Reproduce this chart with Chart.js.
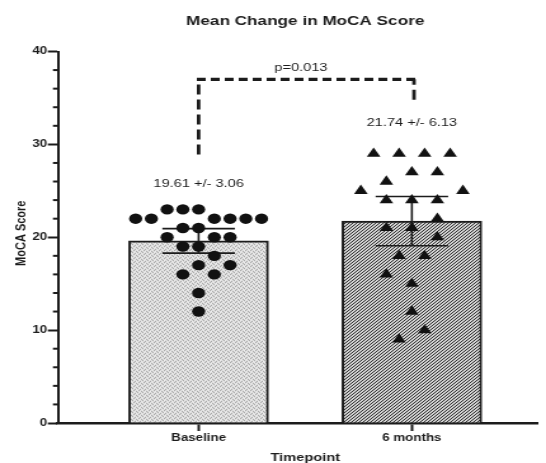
<!DOCTYPE html>
<html><head><meta charset="utf-8">
<script src="https://cdn.jsdelivr.net/npm/chart.js@4.4.1/dist/chart.umd.min.js"></script>
<style>
html,body{margin:0;padding:0;background:#fff;overflow:hidden;width:546px;height:463px;}
#wrap{position:absolute;left:0;top:0;width:430px;height:463px;transform:scaleX(1.2698);transform-origin:0 0;}
canvas{display:block;}
</style></head><body>
<div id="wrap"><canvas id="c" width="430" height="463"></canvas></div>
<script>
// ---- data ----
const categories = ['Baseline', '6 months'];
const groupMeans = [19.61, 21.74];
const groupSDs = [3.06, 6.13];
const groupCI = [1.32, 2.65];
const baselineScores = [23,23,23,22,22,22,22,22,22,21,21,20,20,20,19,19,18,17,17,16,16,14,12];
const baselineSlots  = [-2,-1,0,-4,-3,1,2,3,4,-1,0,-2,1,2,-1,0,1,0,2,-1,1,0,0];
const sixMonthScores = [29,29,29,29,27,27,26,25,25,24,24,24,22,21,21,20,18,18,16,15,12,10,9];
const sixMonthSlots  = [-3,-1,1,3,0,2,-2,-4,4,-2,0,2,2,-2,0,2,-1,1,-2,0,0,1,-1];
const pValueLabel = 'p=0.013';
const bracketTop = 37, bracketLeftEnd = 28.9, bracketRightEnd = 34.8;
const chartTitle = 'Mean Change in MoCA Score';
const yTitle = 'MoCA Score';
const xTitle = 'Timepoint';

// ---- layout constants ----
const FONT = '"Liberation Sans", Arial, Helvetica, sans-serif';
const circleStep = 0.0738, triStep = 0.0598, capHalf = 0.17;
const INK = '#1c1c1c';

const baselinePoints = baselineScores.map((v,i)=>({x: 1 + baselineSlots[i]*circleStep, y: v}));
const sixPoints = sixMonthScores.map((v,i)=>({x: 2 + sixMonthSlots[i]*triStep, y: v}));
const barPoints = groupMeans.map((m,i)=>({x: i+1, y: m}));

function stipple(){
  const c=document.createElement('canvas');c.width=4;c.height=4;
  const g=c.getContext('2d');g.fillStyle='#dcdcdc';g.fillRect(0,0,4,4);
  g.fillStyle='#a9a9a9';
  [[0,0],[2,1],[1,2],[3,3]].forEach(p=>g.fillRect(p[0],p[1],1,1));
  g.fillStyle='#efefef';
  [[2,3],[0,2],[3,1],[1,0]].forEach(p=>g.fillRect(p[0],p[1],1,1));
  return g.createPattern(c,'repeat');
}
function hatch(){
  const c=document.createElement('canvas');c.width=3;c.height=3;
  const g=c.getContext('2d');g.fillStyle='#d2d2d2';g.fillRect(0,0,3,3);
  g.fillStyle='#2e2e2e';g.fillRect(0,2,1,1);g.fillRect(1,1,1,1);g.fillRect(2,0,1,1);
  return g.createPattern(c,'repeat');
}
const ctx0 = document.getElementById('c').getContext('2d');

const overlay = {
  id:'overlay',
  afterDatasetDraw(chart,args){
    if(args.index!==2) return;
    const {ctx,scales:{x,y}}=chart;
    ctx.save();ctx.strokeStyle=INK;ctx.lineWidth=1.6;
    groupMeans.forEach((m,i)=>{
      const cx=x.getPixelForValue(i+1);
      const hw=x.getPixelForValue(i+1+capHalf)-cx;
      const yt=y.getPixelForValue(m+groupCI[i]), yb=y.getPixelForValue(m-groupCI[i]);
      ctx.beginPath();
      ctx.moveTo(cx,yt);ctx.lineTo(cx,yb);
      ctx.moveTo(cx-hw,yt);ctx.lineTo(cx+hw,yt);
      ctx.moveTo(cx-hw,yb);ctx.lineTo(cx+hw,yb);
      ctx.stroke();
    });
    ctx.restore();
  },
  afterDraw(chart){
    const {ctx,scales:{x,y},chartArea}=chart;
    ctx.save();
    // minor ticks
    ctx.strokeStyle=INK;ctx.lineWidth=2;
    for(let v=2;v<40;v+=2){ if(v%10===0) continue;
      const py=y.getPixelForValue(v);
      ctx.beginPath();ctx.moveTo(chartArea.left-4,py);ctx.lineTo(chartArea.left,py);ctx.stroke();
    }
    ctx.fillStyle=INK;
    // title
    ctx.font='bold 13.5px '+FONT;ctx.textAlign='center';ctx.textBaseline='alphabetic';
    ctx.fillText(chartTitle,x.getPixelForValue(1.5),24.5);
    // x title
    ctx.font='bold 11.5px '+FONT;
    ctx.fillText(xTitle,x.getPixelForValue(1.5),460.5);
    // y title
    ctx.save();ctx.translate(19.7,(chartArea.top+chartArea.bottom)/2-4);ctx.rotate(-Math.PI/2);
    ctx.font='bold 11px '+FONT;ctx.fillText(yTitle,0,0);ctx.restore();
    // annotations
    ctx.font='11.5px '+FONT;
    ctx.fillText(groupMeans[0].toFixed(2)+' +/- '+groupSDs[0].toFixed(2),x.getPixelForValue(1),y.getPixelForValue(25.4));
    ctx.fillText(groupMeans[1].toFixed(2)+' +/- '+groupSDs[1].toFixed(2),x.getPixelForValue(2),y.getPixelForValue(32));
    ctx.fillText(pValueLabel,x.getPixelForValue(1.48),y.getPixelForValue(37.9));
    // bracket
    ctx.strokeStyle=INK;ctx.lineWidth=2.8;ctx.lineCap='butt';
    const xl=x.getPixelForValue(1), xr=x.getPixelForValue(2.01), yt=y.getPixelForValue(bracketTop);
    ctx.setLineDash([10,5]);
    ctx.beginPath();ctx.moveTo(xl,y.getPixelForValue(bracketLeftEnd));ctx.lineTo(xl,yt);ctx.stroke();
    ctx.beginPath();ctx.moveTo(xr,y.getPixelForValue(bracketRightEnd));ctx.lineTo(xr,yt);ctx.stroke();
    ctx.lineWidth=3.2;ctx.setLineDash([7,4]);
    ctx.beginPath();ctx.moveTo(xl-1.4,yt);ctx.lineTo(xr+1.4,yt);ctx.stroke();
    ctx.restore();
  }
};

new Chart(ctx0,{
  type:'bar',
  data:{datasets:[
    {type:'scatter',data:baselinePoints,pointStyle:'circle',pointRadius:5.2,pointHoverRadius:5.2,
     backgroundColor:'#111',borderColor:'#111',pointBorderWidth:0,borderWidth:0,order:1},
    {type:'scatter',data:sixPoints,pointStyle:'triangle',pointRadius:6.2,pointHoverRadius:6.2,
     backgroundColor:'#111',borderColor:'#111',pointBorderWidth:0,borderWidth:0,order:1},
    {type:'bar',data:barPoints,backgroundColor:[stipple(),hatch()],borderColor:INK,borderWidth:2,
     borderSkipped:'bottom',barThickness:110,order:2}
  ]},
  options:{
    responsive:false,animation:false,devicePixelRatio:1,
    layout:{padding:{left:0,right:5,top:51.5,bottom:0}},
    plugins:{legend:{display:false},tooltip:{enabled:false},title:{display:false}},
    scales:{
      x:{type:'linear',min:0.341,max:2.592,offset:false,
        afterBuildTicks:(s)=>{s.ticks=[{value:1},{value:2}];},
        afterFit:(s)=>{s.height=40;},
        ticks:{autoSkip:false,maxRotation:0,padding:1,color:INK,font:{family:FONT,size:10.5,weight:'bold'},
          callback:(v)=>v===1?categories[0]:(v===2?categories[1]:'')},
        grid:{offset:false,drawOnChartArea:false,drawTicks:true,tickLength:8,tickWidth:2,tickColor:INK},
        border:{display:true,color:INK,width:2.5}
      },
      y:{type:'linear',min:0,max:40,
        afterFit:(s)=>{s.width=45.7;},
        ticks:{stepSize:2,padding:0.5,color:INK,font:{family:FONT,size:10.5,weight:'bold'},
          callback:(v)=>v%10===0?String(v):''},
        grid:{drawOnChartArea:false,drawTicks:true,tickLength:8,tickWidth:2,
          tickColor:(c)=>(c.tick&&c.tick.value%10===0)?INK:'rgba(0,0,0,0)'},
        border:{display:true,color:INK,width:2}
      }
    }
  },
  plugins:[overlay]
});
</script>
</body></html>
